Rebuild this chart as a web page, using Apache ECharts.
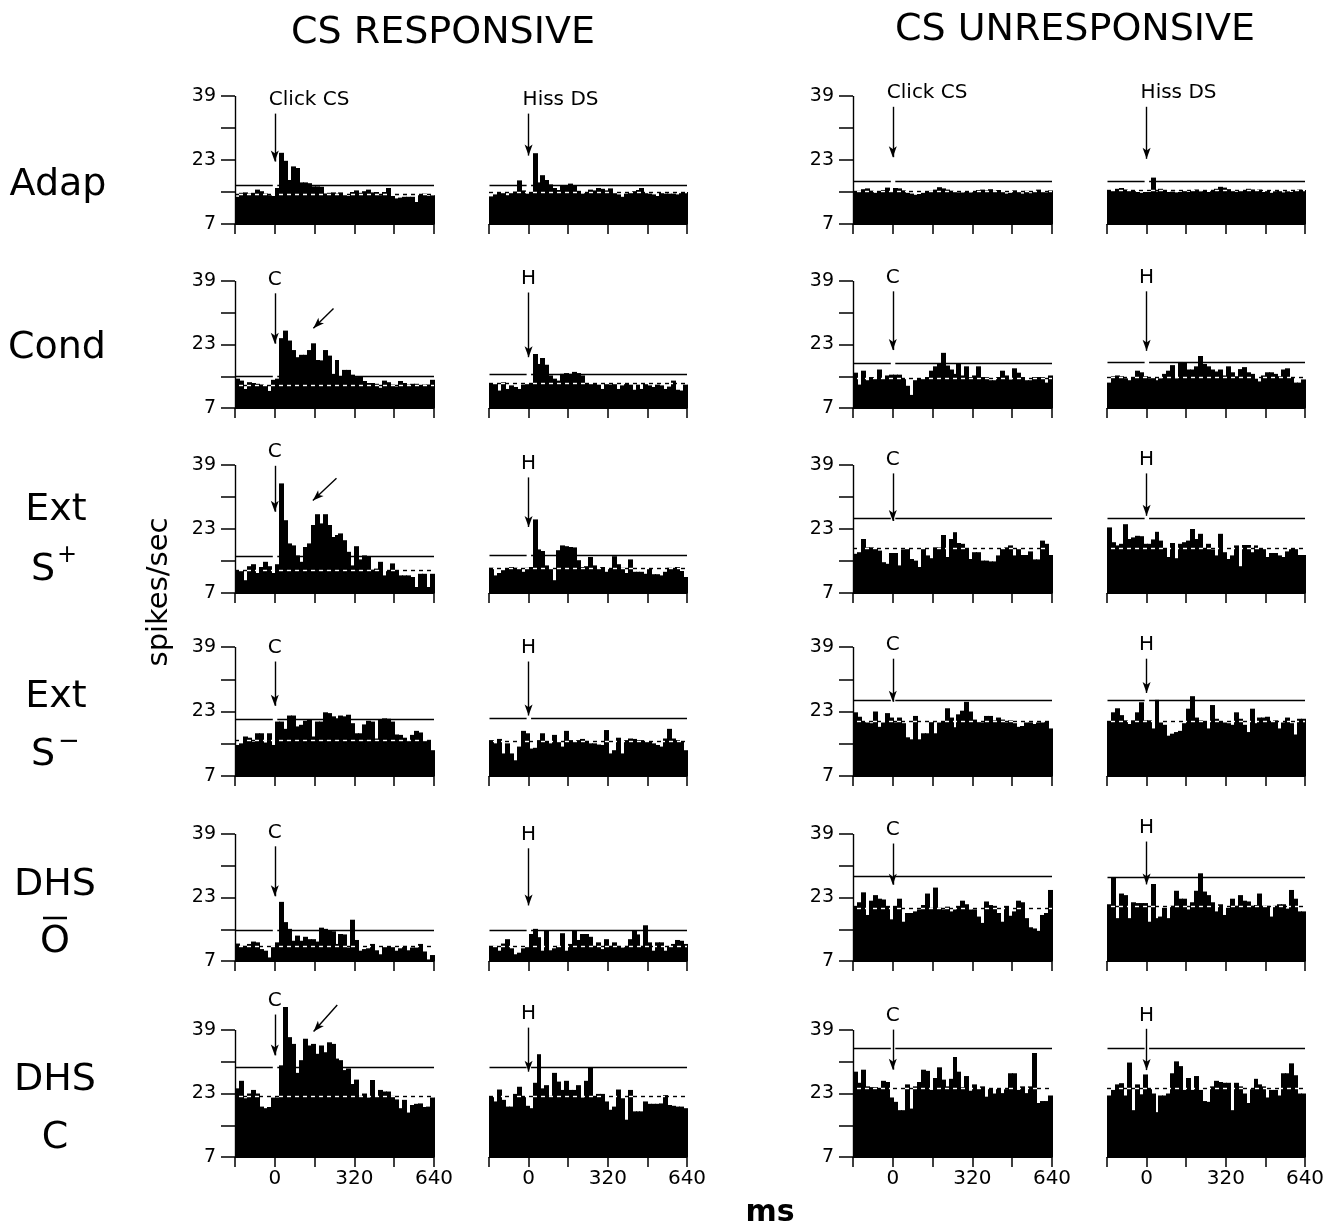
<!DOCTYPE html>
<html>
<head>
<meta charset="utf-8">
<title>CS responsive / unresponsive PSTHs</title>
<script src="https://cdn.jsdelivr.net/npm/echarts@6/dist/echarts.min.js"></script>
<style>
  html, body { margin: 0; padding: 0; background: #fff; }
  #chart { width: 1336px; height: 1232px; }
</style>
</head>
<body>
<div id="chart"></div>
<script>
// 16 ms bins from -160 to 640 ms, spikes/sec
const BIN = 16;
const X_MIN = -160;
const X_MAX = 640;
const Y_BASE = 7;
const xTickLabels = [0, 320, 640];
const yTickValues = [7, 15, 23, 31, 39];
const yTickLabels = [7, 23, 39];
const colTitles = ['CS RESPONSIVE', 'CS UNRESPONSIVE'];

// CS responsive, click (C) and hiss (H)
const respAdapClick = [13.8,14.8,14.9,14.6,14.8,15.6,15.2,14.6,14.2,14.0, 16.0,24.8,22.8,18.0,21.4,21.0,17.4,17.4,17.2,16.4, 16.4,16.3,14.6,14.8,14.9,14.6,14.9,14.5,14.0,15.0, 15.4,14.8,15.2,15.6,14.9,15.0,14.2,15.0,16.0,14.0, 13.4,13.6,13.8,13.8,13.8,12.5,14.4,14.6,14.0,14.2];
const respAdapHiss = [13.9,14.4,14.8,14.8,14.2,14.9,15.1,17.9,15.4,14.6, 15.0,24.7,17.4,19.2,18.0,16.9,16.0,15.5,16.6,16.6, 17.1,16.6,15.3,14.6,15.0,15.6,15.4,16.0,15.8,15.4, 15.9,14.8,14.4,13.8,14.6,14.9,15.2,15.5,16.0,15.0, 14.6,14.4,14.0,14.8,14.6,14.6,14.6,14.4,14.8,15.0];
const respCondClick = [14.4,13.9,11.8,13.5,13.3,13.1,12.9,12.7,11.3,14.1, 14.4,24.6,26.5,24.0,21.6,19.8,20.4,20.4,21.6,23.3, 19.1,19.0,21.6,20.2,15.6,19.1,14.9,16.6,16.6,15.4, 14.8,14.9,13.8,13.3,13.3,13.1,12.1,13.9,13.5,12.9, 12.4,13.8,13.3,12.9,13.1,13.1,12.7,12.9,12.9,14.1];
const respCondHiss = [13.3,13.3,11.4,13.5,11.8,12.7,12.3,11.8,12.9,13.3, 13.1,20.6,18.1,19.6,17.9,15.2,14.4,13.9,15.6,15.8, 15.6,16.1,15.8,15.2,13.3,13.1,13.3,12.9,11.8,13.1, 12.9,13.3,11.8,12.7,13.3,12.9,11.6,12.9,11.8,13.3, 12.7,12.3,12.9,12.7,11.8,12.4,13.9,11.6,11.4,12.9];
const respExtPlusClick = [12.5,12.5,10.2,13.7,14.2,12.0,13.5,14.8,13.7,12.0, 14.2,34.4,25.2,19.4,18.9,16.4,14.8,18.5,19.4,24.0, 26.7,24.4,26.7,24.0,21.0,21.5,21.9,20.2,17.3,13.9, 18.7,15.4,16.4,16.0,12.8,13.1,14.8,11.4,12.7,14.4, 12.7,11.4,11.4,11.4,11.0,8.5,11.8,11.8,8.5,11.8];
const respExtPlusHiss = [13.3,11.4,12.0,12.7,13.1,13.5,13.3,13.1,12.3,13.3, 13.5,25.4,17.9,17.5,13.9,13.1,10.2,17.7,18.9,18.7, 18.5,18.4,15.2,13.5,13.7,16.0,13.9,13.1,13.5,12.3, 13.1,16.2,14.2,13.3,12.0,15.4,12.3,12.3,12.3,11.8, 13.1,11.7,11.7,11.4,12.3,13.3,13.1,13.5,12.5,11.0];
const respExtMinusClick = [14.7,15.1,16.8,16.5,15.5,17.6,17.6,15.3,17.6,14.7, 20.5,20.5,18.7,22.0,22.0,19.3,19.7,20.7,20.9,16.8, 20.5,20.5,22.8,22.6,21.8,21.3,22.0,21.8,22.2,20.1, 17.6,17.6,19.8,20.7,20.5,16.3,20.9,21.3,21.2,20.5, 17.3,17.2,16.5,15.9,17.2,18.2,17.8,15.9,15.7,13.4];
const respExtMinusHiss = [15.9,15.1,16.2,12.6,15.1,12.6,10.9,14.3,18.2,17.6, 13.8,14.0,15.9,17.6,15.5,15.1,17.2,15.5,14.3,18.2, 15.9,15.5,15.9,16.2,15.7,15.1,15.1,14.8,14.7,18.4, 12.6,13.4,16.5,12.6,15.9,16.3,16.2,15.9,15.9,15.5, 15.5,15.1,14.7,14.3,16.3,18.7,16.3,15.9,15.5,13.4];
const respDhsOClick = [11.4,10.8,10.8,11.3,11.9,11.7,10.0,9.6,7.9,10.8, 11.7,21.9,16.8,15.1,12.1,13.4,12.1,13.1,12.5,12.5, 11.9,15.4,15.1,14.8,14.5,11.3,13.8,13.7,10.4,17.4, 12.3,9.6,10.0,10.2,11.3,9.7,8.7,10.6,10.6,10.6, 9.6,10.2,10.8,9.7,10.4,10.4,11.3,9.4,7.4,8.5];
const respDhsOHiss = [10.8,10.8,9.6,11.4,12.5,10.2,8.7,9.1,10.2,10.6, 13.8,15.1,13.0,9.6,14.8,9.7,10.2,10.8,14.0,9.6, 11.3,14.7,12.3,13.8,13.8,13.1,10.8,11.7,10.0,12.5, 10.8,11.7,10.8,10.4,10.8,12.5,14.7,13.7,10.8,16.0, 11.7,9.6,11.7,11.7,9.6,10.8,11.3,12.3,12.1,11.3];
const respDhsCClick = [24.3,26.2,21.8,23.0,23.9,23.0,19.7,19.3,19.6,22.0, 22.0,30.1,44.8,37.2,35.5,28.2,31.4,36.8,35.1,35.5, 33.0,35.1,33.4,35.9,35.5,31.8,31.4,28.9,29.3,25.4, 26.5,22.4,23.0,22.0,26.4,22.2,23.9,23.5,23.5,22.4, 21.5,19.3,21.4,18.2,20.1,20.4,20.5,19.6,19.7,22.0];
const respDhsCHiss = [22.2,21.0,24.0,21.4,19.7,19.7,22.9,24.7,22.2,19.9, 19.3,25.7,32.9,24.3,25.1,22.4,28.2,26.0,23.9,26.2, 23.9,23.9,25.1,22.0,26.2,29.5,22.2,22.9,22.9,21.0, 18.9,19.7,24.0,21.8,16.4,23.9,18.5,18.5,18.5,21.0, 20.4,20.4,20.4,20.5,22.6,20.1,19.9,19.7,19.7,19.3];

// CS unresponsive
const unrespAdapClick = [15.2,15.3,15.7,15.9,15.3,14.8,15.2,15.5,16.1,15.2, 16.0,15.9,15.4,14.8,14.6,14.3,14.5,14.8,15.0,15.3, 15.6,16.2,15.9,15.6,15.3,15.1,14.9,14.9,15.0,14.9, 15.2,15.5,15.6,15.4,15.7,15.3,15.5,15.1,14.6,14.8, 15.4,15.0,14.6,15.3,14.7,15.2,15.6,15.2,14.9,15.4];
const unrespAdapHiss = [15.3,15.5,15.8,16.0,15.6,15.3,15.4,15.0,14.8,15.0, 15.0,18.6,15.1,15.8,15.5,15.0,15.1,14.9,15.0,15.4, 15.0,15.3,15.6,15.2,15.5,15.0,15.4,15.8,16.3,16.1, 15.7,15.4,15.0,15.5,15.3,15.8,15.6,15.4,15.6,15.0, 15.3,14.8,15.2,15.4,14.9,15.2,15.0,15.4,15.6,15.5];
const unrespCondClick = [15.9,12.9,16.4,14.0,14.8,14.5,16.7,14.5,15.2,15.4, 15.4,15.4,14.4,12.6,10.3,14.0,14.4,14.5,14.8,16.4, 17.5,18.1,20.9,17.7,16.7,15.6,18.1,15.2,17.5,14.8, 15.2,17.5,14.8,14.8,14.0,14.0,14.8,16.4,15.2,14.2, 17.0,15.9,14.8,14.0,14.0,14.8,14.8,14.8,13.4,15.2];
const unrespCondHiss = [13.4,15.0,15.2,15.0,14.5,14.0,14.8,16.4,16.0,15.0, 14.5,14.8,14.0,14.5,15.6,16.4,17.8,14.5,18.6,18.5, 16.7,16.7,17.5,20.1,18.1,17.5,16.7,16.2,16.7,15.2, 17.5,16.0,15.0,16.8,17.3,16.0,15.6,14.4,13.7,15.2, 16.0,16.0,15.6,15.0,16.7,17.0,14.8,13.4,13.4,14.2];
const unrespExtPlusClick = [16.8,17.2,20.5,18.4,18.4,18.0,17.6,14.7,14.3,17.0, 17.0,13.9,17.9,18.0,15.5,15.1,13.5,18.2,16.4,15.7, 18.4,18.4,21.5,16.0,20.5,22.2,19.5,19.3,18.2,15.5, 17.2,17.2,15.1,15.1,14.9,14.9,16.4,18.2,18.4,18.9, 16.4,18.0,16.5,16.5,17.4,15.4,15.4,20.1,19.3,16.5];
const unrespExtPlusHiss = [23.4,19.7,18.9,19.3,24.2,20.5,20.9,21.3,21.2,19.3, 19.3,20.4,22.3,20.1,18.2,16.0,19.5,15.7,19.3,19.7, 20.1,23.0,20.5,21.8,18.2,19.3,17.9,16.4,21.8,17.2, 15.5,16.4,18.9,13.7,19.0,19.0,17.2,18.9,18.0,18.2, 16.0,17.0,17.0,16.4,16.0,17.4,18.2,18.2,16.5,16.5];
const unrespExtMinusClick = [22.8,21.7,20.6,20.3,20.1,23.0,19.2,20.3,22.6,21.5, 20.3,21.5,20.1,16.6,16.1,21.9,16.1,17.6,17.6,20.6, 17.6,20.3,20.6,23.8,21.5,19.1,22.3,23.2,25.4,23.0, 21.0,20.6,20.3,21.9,21.9,20.8,21.5,21.0,20.3,20.8, 20.1,19.2,19.4,20.3,20.3,19.9,20.3,20.3,20.6,18.8];
const unrespExtMinusHiss = [20.6,22.8,23.8,22.1,20.8,19.9,20.8,22.8,25.3,20.8, 20.8,18.8,25.9,20.3,19.7,17.0,17.5,17.9,18.2,20.1, 23.7,26.8,21.5,20.8,20.6,18.8,24.6,21.2,20.6,20.3, 20.1,19.7,22.8,21.2,19.7,17.9,23.7,20.1,21.5,21.5, 21.7,20.6,20.8,18.8,20.3,21.5,20.1,17.3,21.2,21.2];
const unrespDhsOClick = [20.9,21.8,24.3,18.6,22.2,23.6,22.7,22.5,20.9,17.5, 20.9,22.7,16.9,19.1,19.1,19.5,20.0,21.1,24.0,20.4, 25.5,20.4,20.0,20.7,19.5,20.0,20.9,22.2,21.3,20.0, 20.0,18.2,16.6,22.0,21.1,20.9,19.1,16.9,20.9,18.4, 19.5,22.2,21.8,17.8,15.5,15.2,14.6,18.6,19.1,24.9];
const unrespDhsOHiss = [21.3,28.1,17.8,24.0,23.6,17.8,21.8,21.6,21.6,21.6, 16.9,26.4,17.8,18.2,20.4,17.8,20.9,24.7,22.7,22.7, 20.0,21.8,24.7,29.1,24.5,23.6,21.8,19.5,21.3,18.6, 20.4,22.7,20.9,23.6,22.2,22.0,20.9,21.1,24.0,20.9, 20.9,18.2,20.9,21.3,21.3,20.2,24.9,22.7,19.5,19.5];
const unrespDhsCClick = [28.5,25.7,29.0,24.8,24.6,24.6,24.3,26.2,25.9,22.0, 20.9,18.8,18.8,25.3,19.2,24.8,25.9,29.0,28.7,23.9, 26.9,29.6,26.5,24.8,26.7,32.2,28.5,24.6,27.4,23.7, 25.3,24.3,24.8,22.2,24.3,23.0,24.3,23.1,24.1,28.1, 28.1,23.9,24.8,23.1,24.8,33.2,20.6,21.1,21.1,22.5];
const unrespDhsCHiss = [22.5,23.9,25.3,25.6,22.5,30.8,18.8,25.3,22.8,27.8, 24.3,23.0,18.3,22.5,22.5,23.0,28.1,31.1,29.9,23.9, 26.9,23.9,27.4,23.9,21.1,20.9,24.8,26.2,25.9,25.7, 25.7,18.8,25.7,24.8,23.0,20.6,24.1,26.7,25.3,24.8, 22.0,23.9,23.9,22.5,28.1,28.1,30.6,27.6,23.0,23.0];

const panelData = [
  [respAdapClick, respAdapHiss, unrespAdapClick, unrespAdapHiss],
  [respCondClick, respCondHiss, unrespCondClick, unrespCondHiss],
  [respExtPlusClick, respExtPlusHiss, unrespExtPlusClick, unrespExtPlusHiss],
  [respExtMinusClick, respExtMinusHiss, unrespExtMinusClick, unrespExtMinusHiss],
  [respDhsOClick, respDhsOHiss, unrespDhsOClick, unrespDhsOHiss],
  [respDhsCClick, respDhsCHiss, unrespDhsCClick, unrespDhsCHiss]
];
// solid line (upper limit) and dashed line (mean), per row and panel
const upperLine = [
  [16.7, 16.8, 17.8, 17.7], [14.9, 15.6, 18.3, 18.5], [16.2, 16.4, 25.7, 25.7],
  [21.1, 21.3, 25.7, 25.7], [14.7, 14.8, 28.3, 28.2], [29.5, 29.5, 34.4, 34.4]
];
const meanLine = [
  [14.4, 15.0, 15.2, 15.4], [12.8, 13.3, 14.5, 14.8], [12.7, 13.1, 18.2, 18.2],
  [15.9, 15.7, 20.6, 20.6], [10.6, 10.8, 20.4, 20.7], [22.2, 22.4, 24.3, 24.3]
];
// stimulus arrow: label level and arrow tip
const stimLabel = [
  ['Click CS', 'Hiss DS', 'Click CS', 'Hiss DS'],
  ['C', 'H', 'C', 'H'], ['C', 'H', 'C', 'H'], ['C', 'H', 'C', 'H'],
  ['C', 'H', 'C', 'H'], ['C', 'H', 'C', 'H']
];
const labelLevel = [
  [38.0, 38.0, 39.7, 39.7], [39.3, 39.5, 39.8, 39.8], [42.2, 39.3, 40.3, 40.3],
  [38.8, 38.8, 39.5, 39.5], [39.3, 38.8, 40.0, 40.5], [46.3, 43.0, 42.5, 42.7]
];
const arrowTip = [
  [22.6, 24.1, 23.7, 23.3], [23.2, 19.8, 21.6, 21.4], [27.3, 23.5, 25.0, 26.3],
  [24.4, 22.0, 25.4, 27.6], [23.3, 21.0, 26.2, 26.3], [32.6, 28.5, 29.0, 28.9]
];
// oblique arrows (row index -> [fromX, fromY, toX, toY]) in the click CS responsive panels
const obliqueArrows = { 1: [236, 32.1, 155, 27.1], 2: [248, 35.7, 153, 30.1], 5: [251, 45.3, 156, 38.6] };

const rowLabels = ['Adap', 'Cond'];

// panel frame positions in px: x at -160 / 640 ms, y at 39 / 7 spikes/sec
const colX = [[235, 434], [489, 687], [853, 1052], [1107, 1305]];
const rowY = [[96, 224], [281, 408], [465, 593], [647, 776], [834, 961], [1030, 1157]];
const Y_TOP = 47;
const AXIS_FONT = 'DejaVu Sans';

function renderHistBar(params, api) {
  const top = api.coord([api.value(0), api.value(1)]);
  const bottom = api.coord([api.value(0) + BIN, Y_BASE]);
  const x0 = Math.round(top[0]);
  const x1 = Math.round(bottom[0]);
  return {
    type: 'rect',
    shape: { x: x0, y: top[1], width: x1 - x0 + 1, height: bottom[1] - top[1] },
    style: { fill: '#000' }
  };
}

const grids = [], xAxes = [], yAxes = [], series = [];
const lineW = 1.4;

panelData.forEach((row, r) => {
  row.forEach((vals, c) => {
    const k = grids.length;
    const [y39, y7] = rowY[r];
    const ppu = (y7 - y39) / 32;
    grids.push({ left: colX[c][0], width: colX[c][1] - colX[c][0], top: y39 - (Y_TOP - 39) * ppu, height: (Y_TOP - Y_BASE) * ppu });
    xAxes.push({
      gridIndex: k, type: 'value', min: X_MIN, max: X_MAX, interval: 160,
      axisLine: { show: true, onZero: false, lineStyle: { color: '#000', width: 1 } },
      axisTick: { show: true, length: 10, lineStyle: { color: '#000', width: 1.5 } },
      axisLabel: {
        show: r === panelData.length - 1, color: '#000', fontFamily: AXIS_FONT, fontSize: 20, margin: 12,
        formatter: v => (xTickLabels.includes(v) ? String(v) : '')
      },
      splitLine: { show: false }
    });
    const leftPanel = c % 2 === 0;
    yAxes.push({
      gridIndex: k, type: 'value', min: Y_BASE, max: Y_TOP, interval: 8, show: leftPanel,
      axisLine: { show: false, onZero: false },
      axisTick: { show: true, inside: false, length: 14, customValues: yTickValues, lineStyle: { color: '#000', width: 1.5 } },
      axisLabel: {
        color: '#000', fontFamily: AXIS_FONT, fontSize: 19, margin: 19, customValues: yTickLabels,
        formatter: v => (yTickLabels.includes(v) ? String(v) : '')
      },
      splitLine: { show: false }
    });

    const up = upperLine[r][c], mean = meanLine[r][c], tip = arrowTip[r][c], lab = labelLevel[r][c];
    const lines = [
      [{ coord: [X_MIN + 2, up] }, { coord: [-8, up] }],
      [{ coord: [10, up] }, { coord: [X_MAX, up] }],
      [{ coord: [X_MIN, mean], lineStyle: { type: [4, 4], color: '#000' } }, { coord: [X_MAX, mean] }],
      [{ coord: [X_MIN, mean], lineStyle: { type: [4, 4], dashOffset: 4, color: '#fff' } }, { coord: [X_MAX, mean] }],
      [{ coord: [0, lab - 3.4], symbol: 'none' }, { coord: [0, tip], symbol: 'arrow', symbolSize: [6, 11] }]
    ];
    if (leftPanel) {
      lines.push([{ coord: [X_MIN, Y_BASE] }, { coord: [X_MIN, 39] }]);
    }
    if (c === 0 && obliqueArrows[r]) {
      const a = obliqueArrows[r];
      lines.push([{ coord: [a[0], a[1]], symbol: 'none' }, { coord: [a[2], a[3]], symbol: 'arrow', symbolSize: [6, 11] }]);
    }
    const longLabel = stimLabel[r][c].length > 1;
    series.push({
      type: 'custom', xAxisIndex: k, yAxisIndex: k, clip: false, silent: true,
      renderItem: renderHistBar,
      encode: { x: 0, y: 1 },
      data: vals.map((v, i) => [X_MIN + BIN * i, v]),
      markLine: {
        silent: true, animation: false, symbol: 'none',
        label: { show: false },
        lineStyle: { color: '#000', width: lineW, type: 'solid' },
        emphasis: { disabled: true },
        data: lines
      },
      markPoint: {
        silent: true, animation: false, symbol: 'circle', symbolSize: 0,
        itemStyle: { color: 'transparent' },
        label: {
          show: true, position: 'inside', color: '#000', fontFamily: AXIS_FONT, fontSize: 20,
          align: longLabel ? 'left' : 'center', offset: longLabel ? [-6, 0] : [0, 0],
          formatter: stimLabel[r][c]
        },
        data: [{ coord: [0, lab] }]
      }
    });
  });
});

const TEXT_FONT = 'DejaVu Sans';
function txt(text, x, y, size, extra) {
  return Object.assign({
    type: 'text', x: x, y: y, silent: true,
    style: { text: text, fontSize: size, fontFamily: TEXT_FONT, fill: '#000', align: 'center', verticalAlign: 'middle' }
  }, extra || {});
}

const graphics = [
  txt(colTitles[0], 443, 33, 38),
  txt(colTitles[1], 1075, 30, 38),
  txt(rowLabels[0], 58, 185, 38),
  txt(rowLabels[1], 57, 348, 38),
  txt('Ext', 56, 510, 38),
  txt('S', 43, 570, 38),
  txt('+', 67, 556, 24),
  txt('Ext', 56, 697, 38),
  txt('S', 43, 755, 38),
  txt('\u2212', 69, 742, 26),
  txt('DHS', 55, 885, 38),
  txt('O', 55, 942, 38),
  { type: 'line', silent: true, shape: { x1: 43, y1: 918, x2: 67, y2: 918 }, style: { stroke: '#000', lineWidth: 2.5 } },
  txt('DHS', 55, 1080, 38),
  txt('C', 55, 1138, 38),
  txt('spikes/sec', 159, 592, 29, { rotation: Math.PI / 2 }),
  txt('ms', 770, 1213, 30, { style: { text: 'ms', fontSize: 30, fontFamily: TEXT_FONT, fontWeight: 'bold', fill: '#000', align: 'center', verticalAlign: 'middle' } })
];

const chart = echarts.init(document.getElementById('chart'), null, { renderer: 'canvas' });
chart.setOption({
  animation: false,
  backgroundColor: '#fff',
  grid: grids,
  xAxis: xAxes,
  yAxis: yAxes,
  series: series,
  graphic: graphics
});
</script>
</body>
</html>
